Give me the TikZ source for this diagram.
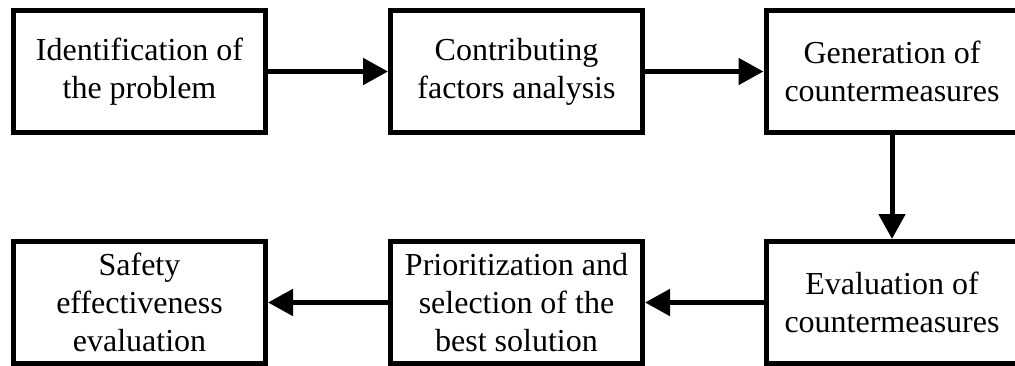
\documentclass[tikz,border=0pt]{standalone}
\usepackage{fontspec}
\setmainfont{Liberation Serif}
\usetikzlibrary{arrows.meta}
\begin{document}
\begin{tikzpicture}[x=1pt,y=-1pt,
  stepbox/.style={draw=black, line width=5pt, fill=white, minimum width=252pt, minimum height=122pt,
    align=center, inner sep=0pt, font=\fontsize{32}{38}\selectfont,
    execute at begin node={\rule{0pt}{30pt}}},
  flow/.style={line width=5pt, -{Triangle[length=25pt,width=26pt]}}]
\useasboundingbox (0,0) rectangle (1015,365);
\fill[white] (0,0) rectangle (1015,365);
\node[stepbox] (b1) at (139.5,71.5) {Identification of\\the problem};
\node[stepbox] (b2) at (516.5,71.5) {Contributing\\factors analysis};
\node[stepbox] (b3) at (892,71.5) {Generation of\\countermeasures};
\node[stepbox] (b6) at (892,302.5) {Evaluation of\\countermeasures};
\node[stepbox] (b5) at (516.5,302.5) {Prioritization and\\selection of the\\best solution};
\node[stepbox] (b4) at (139.5,302.5) {Safety\\effectiveness\\evaluation};
\draw[flow] (b1) -- (b2);
\draw[flow] (b2) -- (b3);
\draw[flow] (b3) -- (b6);
\draw[flow] (b6) -- (b5);
\draw[flow] (b5) -- (b4);
\end{tikzpicture}
\end{document}
